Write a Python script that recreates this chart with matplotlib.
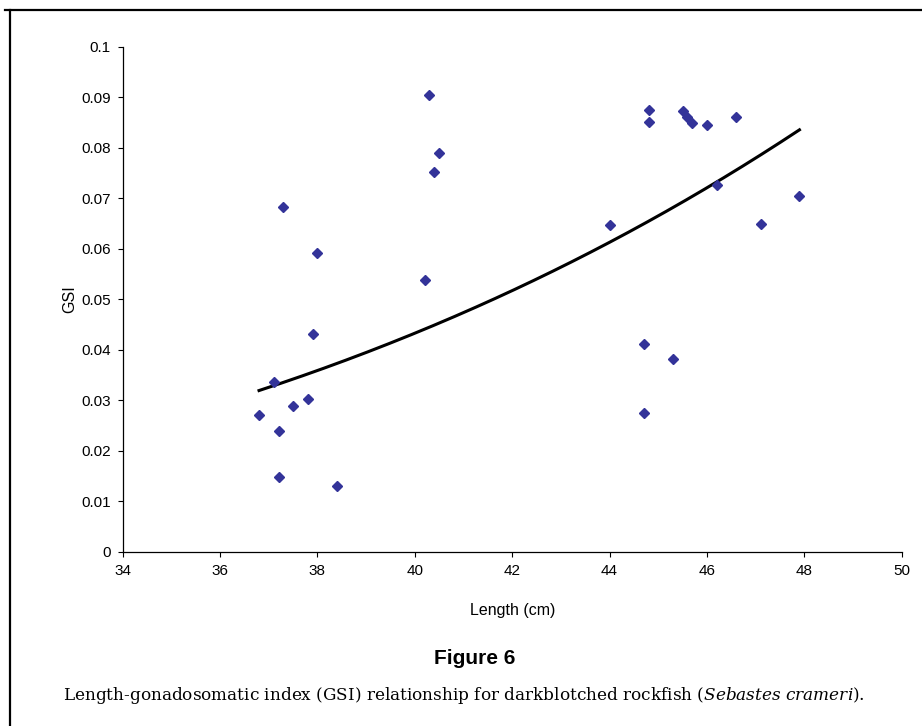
import numpy as np
import matplotlib
matplotlib.use('Agg')
import matplotlib.pyplot as plt
from matplotlib.lines import Line2D

plt.rcParams['mathtext.fontset'] = 'dejavuserif'

# Length (cm) and GSI of each fish
length_cm = [36.8, 37.1, 37.2, 37.2, 37.3, 37.5, 37.8, 37.9, 38.0, 38.4,
             40.2, 40.3, 40.4, 40.5,
             44.0, 44.7, 44.7, 44.8, 44.8, 45.3, 45.5, 45.6, 45.7, 46.0,
             46.2, 46.6, 47.1, 47.9]
gsi = [0.0271, 0.0336, 0.0239, 0.0148, 0.0683, 0.0288, 0.0302, 0.0431, 0.0592, 0.0131,
       0.0538, 0.0905, 0.0752, 0.0790,
       0.0647, 0.0411, 0.0274, 0.0875, 0.0851, 0.0382, 0.0873, 0.0861, 0.0849, 0.0845,
       0.0726, 0.0861, 0.0649, 0.0704]

x_ticks = [34, 36, 38, 40, 42, 44, 46, 48, 50]
y_ticks = [0, 0.01, 0.02, 0.03, 0.04, 0.05, 0.06, 0.07, 0.08, 0.09, 0.1]
y_labels = ['0', '0.01', '0.02', '0.03', '0.04', '0.05', '0.06', '0.07', '0.08', '0.09', '0.1']

caption_title = "Figure 6"
caption_text = "Length-gonadosomatic index (GSI) relationship for darkblotched rockfish ("
caption_species = "Sebastes crameri"

W, H = 922, 726
fig = plt.figure(figsize=(W / 100, H / 100), dpi=100)
ax = fig.add_axes([122.7 / W, 1 - 551.7 / H, (901.7 - 122.7) / W, (551.7 - 46.7) / H])

# power trendline fitted to the points (as the spreadsheet did)
x = np.array(length_cm)
y = np.array(gsi)
c, log_a = np.polyfit(np.log(x), np.log(y), 1)
xs = np.linspace(x.min(), x.max(), 200)
ax.plot(xs, np.exp(log_a) * xs ** c, color='black', lw=2.2, zorder=2)

ax.plot(length_cm, gsi, linestyle='none', marker='D', ms=5.4,
        color='#333399', markeredgecolor='#333399', zorder=3)

ax.set_xlim(34, 50)
ax.set_ylim(0, 0.1)
ax.set_xticks(x_ticks)
ax.set_yticks(y_ticks)
ax.set_yticklabels(y_labels)
for lab in ax.get_xticklabels() + ax.get_yticklabels():
    lab.set_fontfamily('Liberation Sans')
    lab.set_fontsize(11)
ax.tick_params(direction='out', length=3.5, width=0.8, color='black', pad=5)
ax.spines['top'].set_visible(False)
ax.spines['right'].set_visible(False)
for s in ('left', 'bottom'):
    ax.spines[s].set_linewidth(0.9)
label_font = {'family': 'Liberation Sans', 'size': 11.5}
ax.set_xlabel("Length (cm)", fontdict=label_font, labelpad=18)
ax.set_ylabel("GSI", fontdict=label_font, labelpad=3)

# outer frame of the figure box (top and left edges)
fig.add_artist(Line2D([5 / W, 1], [1 - 10 / H, 1 - 10 / H], color='black', lw=1.6,
                      transform=fig.transFigure))
fig.add_artist(Line2D([10 / W, 10 / W], [0, 1 - 10 / H], color='black', lw=1.6,
                      transform=fig.transFigure))

fig.text(475 / W, 1 - 658 / H, caption_title, ha='center', va='center',
         family='Liberation Sans', weight='bold', size=15)
fig.text(464 / W, 1 - 695 / H,
         caption_text + r"$\it{" + caption_species.replace(' ', r'\ ') + "}$).",
         ha='center', va='center', family='DejaVu Serif', size=12.2)

fig.savefig('out.png', dpi=100)
